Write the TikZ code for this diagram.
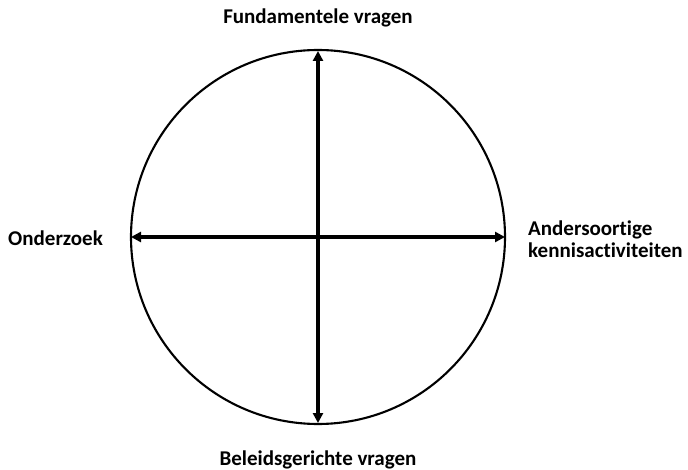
\documentclass[tikz,border=0pt]{standalone}
\usepackage{fontspec}
\setmainfont{Carlito}[Ligatures=NoCommon]
\usetikzlibrary{arrows.meta,positioning}
\tikzset{
  lbl/.style={font=\fontsize{21}{22}\selectfont\bfseries, inner sep=0pt},
  axis/.style={{Triangle[length=10pt,width=10pt]}-{Triangle[length=10pt,width=10pt]}, line width=3.2pt},
}
\begin{document}
\begin{tikzpicture}[x=1pt,y=-1pt]
  \useasboundingbox (0,0) rectangle (688,470);
  \coordinate (c) at (318,237);
  \draw[line width=2.1pt] (c) circle[radius=187];

  \coordinate (w) at (131,237);
  \coordinate (e) at (505,237);
  \coordinate (n) at (318,51);
  \coordinate (s) at (318,423);
  \draw[axis] (w) -- (e);
  \draw[axis] (n) -- (s);

  \node[lbl] (top) at (318,18) {Fundamentele vragen};
  \node[lbl] (bot) at (318,460) {Beleidsgerichte vragen};
  \node[lbl, anchor=west] (lft) at (8,238) {Onderzoek};
  \node[lbl, anchor=west, align=left] (rgt) at (528,239) {Andersoortige\\kennisactiviteiten};
\end{tikzpicture}
\end{document}
